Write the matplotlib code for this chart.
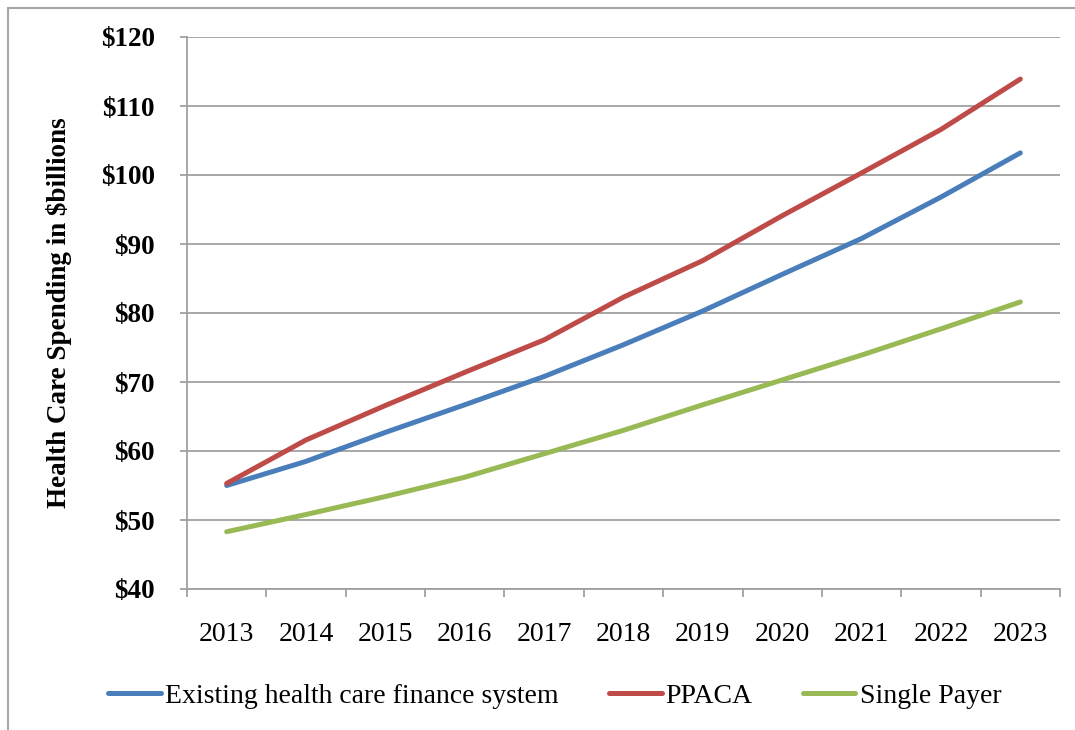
import matplotlib
matplotlib.use('Agg')
import matplotlib.pyplot as plt
from matplotlib.patches import Rectangle
from matplotlib.ticker import FixedLocator, FuncFormatter

years = ['2013', '2014', '2015', '2016', '2017', '2018', '2019', '2020', '2021', '2022', '2023']
existing = [55.0, 58.5, 62.7, 66.7, 70.8, 75.4, 80.3, 85.6, 90.8, 96.8, 103.2]
ppaca = [55.3, 61.6, 66.6, 71.4, 76.1, 82.3, 87.6, 94.1, 100.3, 106.6, 113.9]
single = [48.3, 50.8, 53.4, 56.2, 59.6, 63.0, 66.7, 70.3, 73.9, 77.7, 81.6]
names = ['Existing health care finance system', 'PPACA', 'Single Payer']
colors = ['#4a7ebb', '#be4b48', '#98b954']

plt.rcParams['font.family'] = ['Liberation Serif', 'DejaVu Serif']

fig = plt.figure(figsize=(10.75, 7.3), dpi=100)
ax = fig.add_axes([187 / 1075, 1 - 589 / 730, (1060 - 187) / 1075, (589 - 37) / 730])

# outer chart border (cut off at right and bottom like the source)
fig.patches.append(Rectangle((8 / 1075, -0.1), 1.2, 1 - 8 / 730 + 0.1, transform=fig.transFigure,
                             fill=False, edgecolor='#a6a6a6', linewidth=1.5))

x = list(range(len(years)))
for vals, name, c in zip([existing, ppaca, single], names, colors):
    ax.plot(x, vals, color=c, lw=3.6, solid_capstyle='round', solid_joinstyle='round', label=name)

ax.set_xlim(-0.5, len(years) - 0.5)
ax.set_ylim(40, 120)
ax.set_yticks(range(40, 121, 10))
ax.yaxis.set_major_formatter(FuncFormatter(lambda v, p: '$%d' % v))
ax.grid(axis='y', color='#a0a0a0', lw=1.3)
ax.set_axisbelow(True)

ax.set_xticks(x)
ax.set_xticklabels(years)
ax.xaxis.set_minor_locator(FixedLocator([i - 0.5 for i in range(len(years) + 1)]))
ax.tick_params(axis='x', which='major', length=0, pad=24, labelsize=20)
ax.tick_params(axis='x', which='minor', length=6, width=1.3, color='#a0a0a0', direction='out')
ax.tick_params(axis='y', length=5, width=1.3, color='#a0a0a0', pad=18, labelsize=19.5)
for lab in ax.get_yticklabels():
    lab.set_fontweight('bold')

for s in ['top', 'right']:
    ax.spines[s].set_visible(False)
for s in ['left', 'bottom']:
    ax.spines[s].set_color('#a0a0a0')
    ax.spines[s].set_linewidth(1.3)

ax.set_ylabel('Health Care Spending in $billions', fontsize=19.5, fontweight='bold')
ax.yaxis.set_label_coords((72 - 187) / 873, 0.5)

fig.legend(loc='center', bbox_to_anchor=(0.516, 1 - 696 / 730), ncol=3, frameon=False,
           fontsize=20, handlelength=1.9, handletextpad=0.15, columnspacing=1.8)

fig.savefig('out.png', dpi=100)
